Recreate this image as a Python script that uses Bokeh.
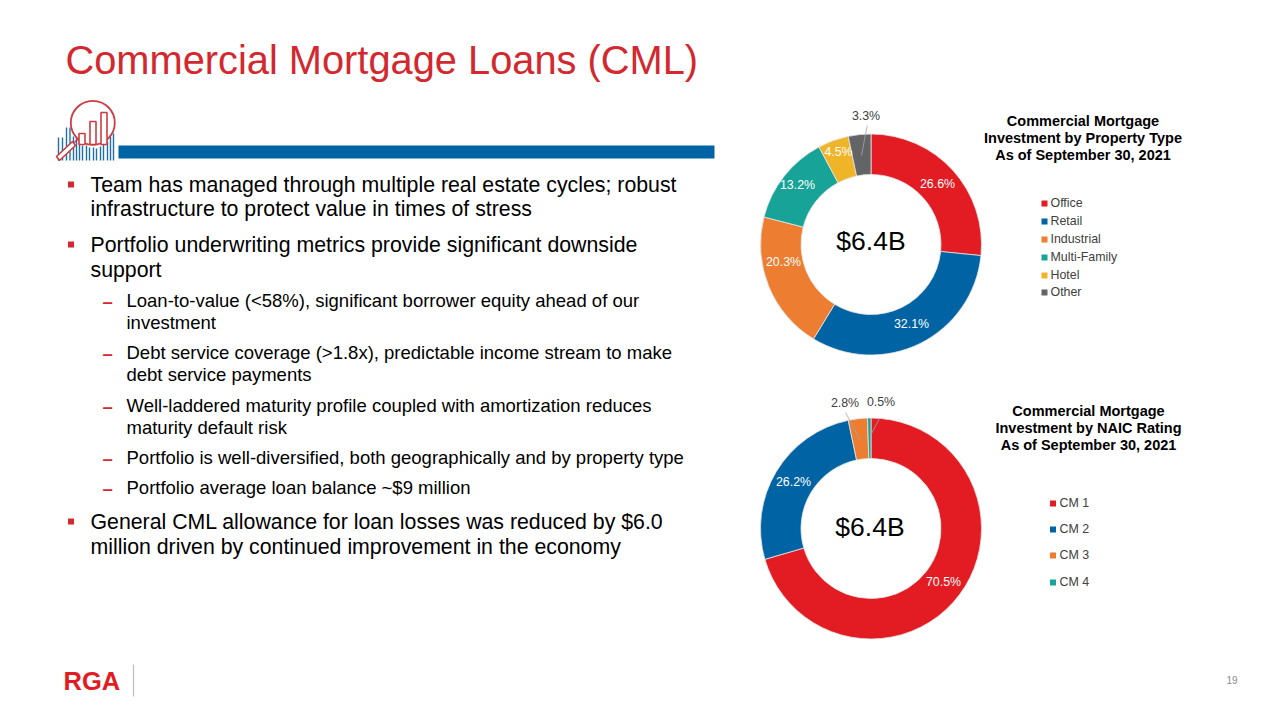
from math import pi
from bokeh.plotting import figure
from bokeh.models import Range1d
from bokeh.core.properties import value
from bokeh.embed import file_html
from bokeh.resources import INLINE

# ---- data ----
property_types = ["Office", "Retail", "Industrial", "Multi-Family", "Hotel", "Other"]
property_values = [26.6, 32.1, 20.3, 13.2, 4.5, 3.3]
naic_ratings = ["CM 1", "CM 2", "CM 3", "CM 4"]
naic_values = [70.5, 26.2, 2.8, 0.5]
palette = ["#E31B23", "#0063A3", "#ED7D31", "#17A398", "#F0B429", "#636466"]

title = "Commercial Mortgage Loans (CML)"
body_lines = [
    (0, "Team has managed through multiple real estate cycles; robust", 185),
    (0, "infrastructure to protect value in times of stress", 209),
    (0, "Portfolio underwriting metrics provide significant downside", 245),
    (0, "support", 270),
    (1, "Loan-to-value (<58%), significant borrower equity ahead of our", 301),
    (1, "investment", 323),
    (1, "Debt service coverage (>1.8x), predictable income stream to make", 353),
    (1, "debt service payments", 375),
    (1, "Well-laddered maturity profile coupled with amortization reduces", 406),
    (1, "maturity default risk", 428),
    (1, "Portfolio is well-diversified, both geographically and by property type", 458),
    (1, "Portfolio average loan balance ~$9 million", 488),
    (0, "General CML allowance for loan losses was reduced by $6.0", 522),
    (0, "million driven by continued improvement in the economy", 547),
]

FONT = value("Liberation Sans")

# The figure sits at the page's top-left corner, so data units equal page pixels.
p = figure(width=1264, height=704, x_range=Range1d(0, 1264), y_range=Range1d(704, 0),
           output_backend="svg", toolbar_location=None, min_border=0,
           background_fill_color="white", border_fill_color="white", outline_line_color=None)
p.xaxis.visible = False
p.yaxis.visible = False
p.grid.visible = False


def txt(x, y, s, size, color="#000000", align="left", style="normal"):
    p.text([x], [y - 1], text=[s], text_font=FONT, text_font_size=f"{size}px", text_color=color,
           text_align=align, text_baseline="middle", text_font_style=style)


def donut(cx, cy, values, colors):
    start = pi / 2
    for v, c in zip(values, colors):
        end = start - v / 100 * 2 * pi
        p.annular_wedge([cx], [cy], inner_radius=70, outer_radius=110.5, start_angle=start, end_angle=end,
                        direction="clock", fill_color=c, line_color="#E6E6E6", line_width=0.8)
        start = end


# header
txt(65, 60, title, 39.8, "#D2282E")
p.quad(left=[118], right=[714], top=[145], bottom=[158], fill_color="#0063A3", line_color=None)

# icon
for x, top in zip([58, 62, 66, 69.5, 73, 76, 79, 82, 86, 89, 93, 96, 100, 103, 107, 110, 113],
                  [137, 137, 127, 127, 136, 137, 135, 145, 145, 147, 147, 148, 146, 144, 141, 136, 133]):
    p.segment([x], [top], [x], [160], line_color="#1F6FA8", line_width=1.4)
p.circle([92.3], [122.3], radius=22, fill_color="white", fill_alpha=0.85, line_color="#CE3B41", line_width=1.8)
for l, r, t in [(78.5, 84.5, 133), (89.5, 95.5, 121), (100.5, 106.5, 112)]:
    p.quad(left=[l], right=[r], top=[t], bottom=[144], fill_color="white", line_color="#CE3B41", line_width=1.6)
p.patch([56, 72, 75, 59], [156, 141, 145, 160], fill_color="white", line_color="#CE3B41", line_width=1.6)
p.line([74, 78], [142, 138], line_color="#CE3B41", line_width=1.6)

# body
for level, s, y in body_lines:
    if level == 0:
        txt(90, y, s, 21.3)
    else:
        txt(126, y, s, 18.5)
for y in [184, 244, 521]:
    p.quad(left=[67.5], right=[73.5], top=[y - 3], bottom=[y + 3], fill_color="#D2282E", line_color=None)
for y in [301, 353, 406, 458, 488]:
    txt(102, y + 1, "\u2013", 18.5, "#D2282E", style="bold")

# donut 1
donut(870.5, 244, property_values, palette)
txt(870.5, 241, "$6.4B", 26.5, align="center")
for s, x, y in zip(property_values, [937, 911, 783, 797, 838], [184.5, 324.5, 262.5, 185.5, 152.5]):
    txt(x, y, f"{s:.1f}%", 12.4, "#FFFFFF", "center")
p.line([866.7, 861], [125, 155], line_color="#A6A6A6", line_width=0.8)
txt(865.5, 116.5, f"{property_values[5]:.1f}%", 12.4, "#404040", "center")
txt(1082.5, 121.5, "Commercial Mortgage", 14.5, align="center", style="bold")
txt(1082.5, 138.5, "Investment by Property Type", 14.5, align="center", style="bold")
txt(1082.5, 155.5, "As of September 30, 2021", 14.5, align="center", style="bold")
for s, c, y in zip(property_types, palette, [203, 221, 239, 257, 275, 292]):
    p.quad(left=[1041], right=[1047], top=[y - 3], bottom=[y + 3], fill_color=c, line_color=None)
    txt(1050, y + 0.5, s, 12.4, "#404040")

# donut 2
donut(870.5, 528, naic_values, palette)
txt(869.5, 527.5, "$6.4B", 26.5, align="center")
for s, x, y in zip(naic_values[:2], [943, 793], [582.5, 482.5]):
    txt(x, y, f"{s:.1f}%", 12.4, "#FFFFFF", "center")
p.line([845, 860], [412, 440], line_color="#A6A6A6", line_width=0.8)
p.line([879, 870], [418, 435], line_color="#A6A6A6", line_width=0.8)
txt(844.5, 403, f"{naic_values[2]:.1f}%", 12.4, "#404040", "center")
txt(880.5, 402, f"{naic_values[3]:.1f}%", 12.4, "#404040", "center")
txt(1088, 411.5, "Commercial Mortgage", 14.5, align="center", style="bold")
txt(1088, 428.5, "Investment by NAIC Rating", 14.5, align="center", style="bold")
txt(1088, 445.5, "As of September 30, 2021", 14.5, align="center", style="bold")
for s, c, y in zip(naic_ratings, palette, [503, 529, 555, 582]):
    p.quad(left=[1049.5], right=[1055.5], top=[y - 3], bottom=[y + 3], fill_color=c, line_color=None)
    txt(1059, y + 0.5, s, 12.4, "#404040")

# footer
txt(63, 681, "RGA", 25.5, "#E31B23", style="bold")
p.segment([133], [664], [133], [696], line_color="#BFBFBF", line_width=1.2)
txt(1237, 680.5, "19", 10, "#8C8C8C", "right")

open("out.html", "w").write(file_html(p, INLINE))
